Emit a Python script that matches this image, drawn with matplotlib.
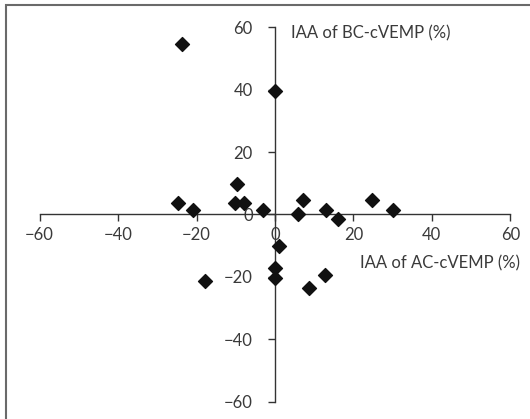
import matplotlib
matplotlib.use("Agg")
import matplotlib.pyplot as plt
from matplotlib.patches import Rectangle

ac_iaa = [-23.7, 0.1, -24.8, -20.8, -9.8, -10.2, -7.9, -3.1, 6.0, 7.1,
          12.9, 16.1, 24.8, 30.0, 1.1, 0.0, 0.0, -17.9, 8.7, 12.8]
bc_iaa = [54.5, 39.6, 3.6, 1.6, 9.7, 3.6, 3.6, 1.6, 0.3, 4.5,
          1.6, -1.6, 4.5, 1.6, -10.2, -17.3, -20.5, -21.4, -23.5, -19.5]
ticks = [-60, -40, -20, 0, 20, 40, 60]
xlabel = "IAA of AC-cVEMP (%)"
ylabel = "IAA of BC-cVEMP (%)"

plt.rcParams['font.family'] = ['Lato', 'DejaVu Sans']
fig = plt.figure(figsize=(5.30, 4.19), dpi=100)
fig.patches.append(Rectangle((6/530, -0.1), 1.2, 1 - 5.5/419 + 0.1, transform=fig.transFigure,
                             fill=False, edgecolor='#6a6a6a', linewidth=1.5))
top, bottom = 27.3, 401.7
ax = fig.add_axes([39.6/530, 1 - bottom/419, 470.7/530, (bottom - top)/419])
ax.scatter(ac_iaa, bc_iaa, marker='D', s=50, color='#111111', zorder=3)
ax.set_xlim(-60, 60)
ax.set_ylim(-60, 60)
for s in ['top', 'right']:
    ax.spines[s].set_visible(False)
ax.spines['left'].set_position(('data', 0))
ax.spines['bottom'].set_position(('data', 0))
for s in ['left', 'bottom']:
    ax.spines[s].set_color('#333333')
    ax.spines[s].set_linewidth(1.0)
ax.set_xticks(ticks)
ax.set_yticks(ticks)
ax.tick_params(axis='x', direction='out', length=5, width=1, color='#333333',
               labelsize=12, labelcolor='#3a3a3a', pad=4)
ax.tick_params(axis='y', direction='out', length=5, width=1, color='#333333',
               labelsize=12, labelcolor='#3a3a3a', pad=11)
ax.patch.set_alpha(0)
ax.text(291/530, 1 - 33/419, ylabel, transform=fig.transFigure, fontsize=12,
        color='#3a3a3a', ha='left', va='center')
ax.text(520/530, 1 - 263/419, xlabel, transform=fig.transFigure, fontsize=12,
        color='#3a3a3a', ha='right', va='center')
fig.savefig("out.png", dpi=100)
